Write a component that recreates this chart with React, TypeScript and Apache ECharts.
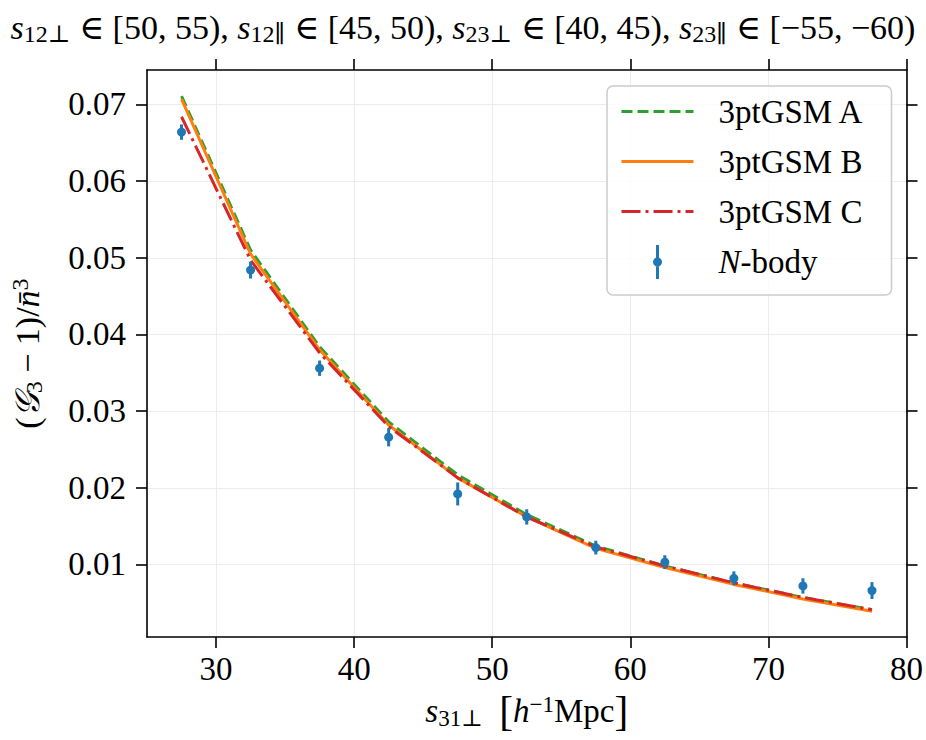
import React, { useEffect, useRef } from 'react';
import * as echarts from 'echarts';

// ---- data ----
const sPerp = [27.5, 32.5, 37.5, 42.5, 47.5, 52.5, 57.5, 62.5, 67.5, 72.5, 77.5];
const modelA = [0.0711, 0.0510, 0.0384, 0.0286, 0.0217, 0.0165, 0.0124, 0.0098, 0.0076, 0.0057, 0.0041];
const modelB = [0.0707, 0.0505, 0.0380, 0.0282, 0.0213, 0.0162, 0.0121, 0.0096, 0.0074, 0.0055, 0.0039];
const modelC = [0.0684, 0.0497, 0.0376, 0.0280, 0.0213, 0.0162, 0.0123, 0.0098, 0.0076, 0.0057, 0.0041];
const nbody = [0.0664, 0.0484, 0.0356, 0.0266, 0.0192, 0.0162, 0.0122, 0.0103, 0.0082, 0.0072, 0.0066];
const nbodyErr = [0.0010, 0.0011, 0.0010, 0.0012, 0.0015, 0.0010, 0.0009, 0.0009, 0.0009, 0.0010, 0.0011];
const xTicks = [30, 40, 50, 60, 70, 80];
const yTicks = [0.01, 0.02, 0.03, 0.04, 0.05, 0.06, 0.07];
const seriesNames = ['3ptGSM A', '3ptGSM B', '3ptGSM C', 'N-body'];

const FONT = '"Liberation Serif", "DejaVu Serif", serif';
const C_A = '#2ca02c';
const C_B = '#ff7f0e';
const C_C = '#d62728';
const C_N = '#1f77b4';

const DASH_A = [11, 5];
const DASH_C = [19, 5, 3, 5];

const X_MIN = 25;
const X_MAX = 80;
const Y_MIN = 0.00054;
const Y_MAX = 0.0745;

const ERRBAR_ICON =
  'path://M-1.5,0 L1.5,0 L1.5,34 L-1.5,34 Z M0,12.5 A4.5,4.5 0 1 1 0,21.5 A4.5,4.5 0 1 1 0,12.5 Z';

const HIDDEN_SYMBOL = { color: 'rgba(0,0,0,0)', borderColor: 'rgba(0,0,0,0)', borderWidth: 0, opacity: 0 };

function mathRich(size: number) {
  return {
    r: { fontFamily: FONT, fontSize: size, lineHeight: 40, verticalAlign: 'middle', color: '#000' },
    i: { fontFamily: FONT, fontSize: size, fontStyle: 'italic', lineHeight: 40, verticalAlign: 'middle', color: '#000' },
    sub: {
      fontFamily: FONT,
      fontSize: Math.round(size * 0.7),
      lineHeight: Math.round(size * 0.7),
      padding: [14, 0, 0, 0],
      verticalAlign: 'middle',
      color: '#000',
    },
    sup: {
      fontFamily: FONT,
      fontSize: Math.round(size * 0.7),
      lineHeight: Math.round(size * 0.7),
      padding: [0, 0, 14, 0],
      verticalAlign: 'middle',
      color: '#000',
    },
    big: { fontFamily: FONT, fontSize: size * 1.25, lineHeight: 40, verticalAlign: 'middle', color: '#000' },
  };
}

export default function App() {
  const ref = useRef<HTMLDivElement>(null);

  useEffect(() => {
    if (!ref.current) return;
    const chart = echarts.init(ref.current, undefined, { renderer: 'svg' });

    const lineData = (ys: number[]) => sPerp.map((x, i) => [x, ys[i]]);

    const axisLineStyle = { color: '#000', width: 1.6 };

    const option: any = {
      animation: false,
      backgroundColor: '#fff',
      title: {
        left: 'center',
        top: 2,
        text:
          '{i|s}{sub|12⊥}{r| ∈ [50, 55), }{i|s}{sub|12∥}{r| ∈ [45, 50), }{i|s}{sub|23⊥}{r| ∈ [40, 45), }{i|s}{sub|23∥}{r| ∈ [−55, −60)}',
        textStyle: { fontFamily: FONT, fontSize: 34, color: '#000', fontWeight: 'normal', rich: mathRich(34) },
      },
      grid: { left: 146, right: 19, top: 70, bottom: 103, containLabel: false },
      legend: {
        orient: 'vertical',
        left: 607,
        top: 86,
        padding: [9, 16, 16, 13],
        itemWidth: 72,
        itemHeight: 34,
        itemGap: 17,
        backgroundColor: 'rgba(255,255,255,0.85)',
        borderColor: '#cccccc',
        borderWidth: 1.5,
        borderRadius: 6,
        lineStyle: { width: 3 },
        data: [
          { name: '3ptGSM A', itemStyle: HIDDEN_SYMBOL, lineStyle: { width: 3, type: DASH_A, color: C_A } },
          { name: '3ptGSM B', itemStyle: HIDDEN_SYMBOL, lineStyle: { width: 3, type: 'solid', color: C_B } },
          { name: '3ptGSM C', itemStyle: HIDDEN_SYMBOL, lineStyle: { width: 3, type: DASH_C, color: C_C } },
          { name: 'N-body', icon: ERRBAR_ICON, itemStyle: { color: C_N } },
        ],
        formatter: (name: string) =>
          name === 'N-body' ? '{gap|}{i|N}{t|-body}' : '{gap|}{n|' + name + '}',
        textStyle: {
          fontFamily: FONT,
          fontSize: 33,
          color: '#000',
          rich: {
            gap: { width: 20 },
            n: { fontFamily: FONT, fontSize: 33, lineHeight: 36, width: 157, color: '#000' },
            i: { fontFamily: FONT, fontSize: 33, lineHeight: 36, fontStyle: 'italic', color: '#000' },
            t: { fontFamily: FONT, fontSize: 33, lineHeight: 36, color: '#000' },
          },
        },
      },
      xAxis: [
        {
          type: 'value',
          position: 'bottom',
          min: X_MIN,
          max: X_MAX,
          axisLine: { show: true, onZero: false, lineStyle: axisLineStyle },
          axisTick: { show: true, inside: false, length: 11, customValues: xTicks, lineStyle: axisLineStyle },
          axisLabel: {
            customValues: xTicks,
            margin: 15,
            fontFamily: FONT,
            fontSize: 33,
            color: '#000',
          },
          splitLine: { show: true, lineStyle: { color: '#ececec', width: 1 } },
          name: '{i|s}{sub|31⊥}{r|  }{big|[}{i|h}{sup|−1}{r|Mpc}{big|]}',
          nameLocation: 'middle',
          nameGap: 54,
          nameTextStyle: { fontFamily: FONT, fontSize: 33, color: '#000', rich: mathRich(33) },
        },
        {
          type: 'value',
          position: 'top',
          min: X_MIN,
          max: X_MAX,
          axisLine: { show: true, onZero: false, lineStyle: axisLineStyle },
          axisTick: { show: true, inside: false, length: 11, customValues: xTicks, lineStyle: axisLineStyle },
          axisLabel: { show: false },
          splitLine: { show: false },
        },
      ],
      yAxis: [
        {
          type: 'value',
          position: 'left',
          min: Y_MIN,
          max: Y_MAX,
          axisLine: { show: true, onZero: false, lineStyle: axisLineStyle },
          axisTick: { show: true, inside: false, length: 11, customValues: yTicks, lineStyle: axisLineStyle },
          axisLabel: {
            customValues: yTicks,
            margin: 21,
            fontFamily: FONT,
            fontSize: 33,
            color: '#000',
            formatter: (v: number) => v.toFixed(2),
          },
          splitLine: { show: true, lineStyle: { color: '#ececec', width: 1 } },
          name: '{r|(}{i|𝒢}{sub|3}{r| − 1)/}{i|n̄}{sup|3}',
          nameLocation: 'middle',
          nameRotate: 90,
          nameGap: 100,
          nameTextStyle: { fontFamily: FONT, fontSize: 34, color: '#000', rich: mathRich(34) },
        },
        {
          type: 'value',
          position: 'right',
          min: Y_MIN,
          max: Y_MAX,
          axisLine: { show: true, onZero: false, lineStyle: axisLineStyle },
          axisTick: { show: true, inside: false, length: 11, customValues: yTicks, lineStyle: axisLineStyle },
          axisLabel: { show: false },
          splitLine: { show: false },
        },
      ],
      series: [
        {
          name: seriesNames[0],
          type: 'line',
          data: lineData(modelA),
          symbol: 'none',
          showSymbol: false,
          color: C_A,
          lineStyle: { color: C_A, width: 3, type: DASH_A },
          z: 2,
        },
        {
          name: seriesNames[1],
          type: 'line',
          data: lineData(modelB),
          symbol: 'none',
          showSymbol: false,
          color: C_B,
          lineStyle: { color: C_B, width: 3, type: 'solid' },
          z: 3,
        },
        {
          name: seriesNames[2],
          type: 'line',
          data: lineData(modelC),
          symbol: 'none',
          showSymbol: false,
          color: C_C,
          lineStyle: { color: C_C, width: 3, type: DASH_C },
          z: 4,
        },
        {
          name: seriesNames[3],
          type: 'custom',
          color: C_N,
          itemStyle: { color: C_N },
          z: 5,
          encode: { x: 0, y: 1 },
          data: sPerp.map((x, i) => [x, nbody[i], nbodyErr[i]]),
          renderItem: (params: any, api: any) => {
            const x = api.value(0);
            const y = api.value(1);
            const e = api.value(2);
            const top = api.coord([x, y + e]);
            const bot = api.coord([x, y - e]);
            const c = api.coord([x, y]);
            return {
              type: 'group',
              children: [
                {
                  type: 'line',
                  shape: { x1: top[0], y1: top[1], x2: bot[0], y2: bot[1] },
                  style: { stroke: C_N, lineWidth: 3 },
                },
                {
                  type: 'circle',
                  shape: { cx: c[0], cy: c[1], r: 4.5 },
                  style: { fill: C_N },
                },
              ],
            };
          },
        },
      ],
    };

    chart.setOption(option);
    return () => chart.dispose();
  }, []);

  return (
    <div
      ref={ref}
      style={{ position: 'fixed', left: 0, top: 0, width: 926, height: 740, background: '#fff' }}
    />
  );
}
